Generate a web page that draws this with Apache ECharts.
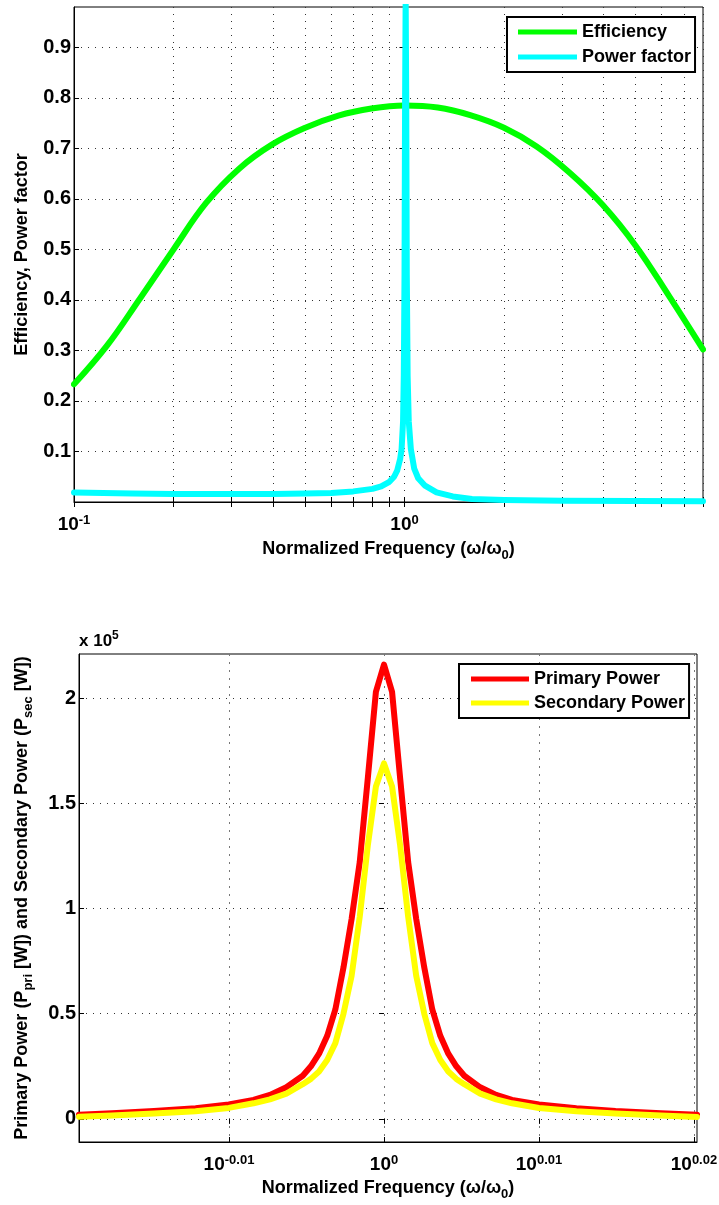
<!DOCTYPE html>
<html>
<head>
<meta charset="utf-8">
<script src="https://cdn.jsdelivr.net/npm/echarts@6/dist/echarts.min.js"></script>
<style>
html,body{margin:0;padding:0;background:#fff;}
#c{width:719px;height:1205px;}
</style>
</head>
<body>
<div id="c"></div>
<script>
// ---------- DATA: top chart ----------
const effFreq = [0.1, 0.126, 0.158, 0.2, 0.251, 0.316, 0.398, 0.501, 0.631, 0.794, 1.0, 1.26, 1.58, 2.0, 2.51, 3.16, 3.98, 5.01, 6.31, 8];
const efficiency = [0.233, 0.31, 0.402, 0.50, 0.592, 0.66, 0.708, 0.741, 0.765, 0.779, 0.785, 0.781, 0.766, 0.741, 0.704, 0.652, 0.588, 0.507, 0.408, 0.302];

const pfFreq = [0.1, 0.15, 0.2, 0.3, 0.4, 0.5, 0.6, 0.7, 0.8, 0.85, 0.9, 0.93, 0.95, 0.97, 0.98, 0.99, 0.995, 1.0, 1.004, 1.008, 1.012, 1.016, 1.022, 1.03, 1.045, 1.07, 1.1, 1.15, 1.25, 1.4, 1.6, 2, 3, 5, 8];
const powerFactor = [0.019, 0.017, 0.016, 0.016, 0.016, 0.017, 0.018, 0.021, 0.026, 0.031, 0.04, 0.05, 0.062, 0.085, 0.105, 0.16, 0.25, 0.45, 0.8, 1.0, 0.8, 0.45, 0.25, 0.16, 0.105, 0.066, 0.047, 0.033, 0.019, 0.011, 0.006, 0.004, 0.0025, 0.002, 0.0015];

const topYTicks = [0.1, 0.2, 0.3, 0.4, 0.5, 0.6, 0.7, 0.8, 0.9];
const topXLabelFreqs = [0.1, 1];
const topXTickFreqs = [0.1, 0.2, 0.3, 0.4, 0.5, 0.6, 0.7, 0.8, 0.9, 1, 2, 3, 4, 5, 6, 7, 8];

// ---------- DATA: bottom chart ----------
const powFreq = [0.9557, 0.9604, 0.9664, 0.9724, 0.9772, 0.9808, 0.9832, 0.9856, 0.9880, 0.9892, 0.9904, 0.9916, 0.9928, 0.9940, 0.9952, 0.9964, 0.9976, 0.9988, 1.0000, 1.0012, 1.0024, 1.0036, 1.0048, 1.0060, 1.0072, 1.0084, 1.0096, 1.0108, 1.0120, 1.0144, 1.0168, 1.0192, 1.0233, 1.0290, 1.0350, 1.0420, 1.0476];
const primaryPower = [2000, 2700, 3700, 5000, 6800, 9000, 11400, 15000, 20500, 25000, 31000, 39500, 52000, 72000, 95000, 122000, 162000, 203000, 216000, 203000, 162000, 122000, 95000, 72000, 52000, 39500, 31000, 25000, 20500, 15000, 11400, 9000, 6800, 5000, 3700, 2700, 1900];
const secondaryPower = [1000, 1600, 2500, 3600, 5200, 7400, 9300, 12000, 16500, 19000, 22500, 28000, 36000, 50000, 68000, 96000, 130000, 158000, 169000, 158000, 130000, 96000, 68000, 50000, 36000, 28000, 22500, 19000, 16500, 12000, 9300, 7400, 5200, 3600, 2500, 1600, 900];

const botXTickExps = [-0.01, 0, 0.01, 0.02];
const botYTicks = [0, 50000, 100000, 150000, 200000];

// ---------- RENDER ----------
const FONT = '"Liberation Sans", Arial, Helvetica, sans-serif';
const lg = v => Math.log10(v);
const pairs = (xs, ys) => xs.map((x, i) => [lg(x), ys[i]]);

const gridLine = { show: true, lineStyle: { color: '#333', width: 1, type: [1, 6] } };
const noSplit = { show: false };
const axLine = { show: true, onZero: false, lineStyle: { color: '#000', width: 1 } };

const supRich = {
  b: { fontSize: 19, fontWeight: 'bold', fontFamily: FONT, color: '#000', lineHeight: 22 },
  s: { fontSize: 13, fontWeight: 'bold', fontFamily: FONT, color: '#000', verticalAlign: 'top' }
};
const subRich = {
  m: { fontSize: 18, fontWeight: 'bold', fontFamily: FONT, color: '#000', lineHeight: 26 },
  u: { fontSize: 13, fontWeight: 'bold', fontFamily: FONT, color: '#000', verticalAlign: 'bottom' }
};
const tickLbl = { fontSize: 20, fontWeight: 'bold', fontFamily: FONT, color: '#000' };

function xAxisPair(gi, min, max, tickVals, labelVals, fmt, name, nameGap, split) {
  return [
    {
      type: 'value', gridIndex: gi, position: 'bottom', min: min, max: max,
      axisLine: axLine,
      axisTick: { show: true, inside: true, length: 5, customValues: tickVals, lineStyle: { color: '#000' } },
      axisLabel: { show: true, customValues: labelVals, formatter: fmt, rich: supRich, margin: 12, hideOverlap: false },
      splitLine: Object.assign({ customValues: tickVals }, split),
      name: name, nameLocation: 'middle', nameGap: nameGap,
      nameTextStyle: { rich: subRich }
    },
    {
      type: 'value', gridIndex: gi, position: 'top', min: min, max: max,
      axisLine: { show: false },
      axisTick: { show: true, inside: true, length: 5, customValues: tickVals, lineStyle: { color: '#000' } },
      axisLabel: { show: false }, splitLine: noSplit
    }
  ];
}
function yAxisPair(gi, min, max, tickVals, fmt, name, nameGap, rich) {
  return [
    {
      type: 'value', gridIndex: gi, position: 'left', min: min, max: max,
      axisLine: axLine,
      axisTick: { show: true, inside: true, length: 5, customValues: tickVals, lineStyle: { color: '#000' } },
      axisLabel: Object.assign({ show: true, customValues: tickVals, formatter: fmt, margin: 3 }, tickLbl),
      splitLine: Object.assign({ customValues: tickVals }, gridLine),
      name: name, nameLocation: 'middle', nameGap: nameGap, nameRotate: 90,
      nameTextStyle: rich ? { rich: subRich } : { fontSize: 18, fontWeight: 'bold', fontFamily: FONT, color: '#000', lineHeight: 20 }
    },
    {
      type: 'value', gridIndex: gi, position: 'right', min: min, max: max,
      axisLine: { show: false },
      axisTick: { show: true, inside: true, length: 5, customValues: tickVals, lineStyle: { color: '#000' } },
      axisLabel: { show: false }, splitLine: noSplit
    }
  ];
}

const xTitle = '{m|Normalized Frequency (ω/ω}{u|0}{m|)}';
const yTitleBot = '{m|Primary Power (P}{u|pri}{m| [W]) and Secondary Power (P}{u|sec}{m| [W])}';

const xAxes = []
  .concat(xAxisPair(0, -1, lg(8), topXTickFreqs.map(lg), topXLabelFreqs.map(lg),
    v => '{b|10}{s|' + Math.round(v) + '}', xTitle, 34, gridLine))
  .concat(xAxisPair(1, lg(powFreq[0]), lg(powFreq[powFreq.length - 1]), botXTickExps, botXTickExps,
    v => '{b|10}{s|' + (Math.abs(v) < 1e-9 ? '0' : v.toFixed(2)) + '}', xTitle, 33,
    { show: true, lineStyle: { color: '#777', width: 1, type: [2, 6] } }));

const yAxes = []
  .concat(yAxisPair(0, 0, 0.98, topYTicks, v => v.toFixed(1), 'Efficiency, Power factor', 37, false))
  .concat(yAxisPair(1, -11000, 221000, botYTicks, v => String(+(v / 1e5).toFixed(1)), yTitleBot, 44, true));

const lineSeries = (name, color, data, xi, yi, smooth) => ({
  name: name, type: 'line', xAxisIndex: xi, yAxisIndex: yi, data: data,
  showSymbol: false, symbol: 'none', smooth: smooth,
  clip: true, color: color,
  itemStyle: { color: color },
  lineStyle: { color: color, width: 6, cap: 'round', join: 'round' },
  animation: false
});

const legendBase = {
  orient: 'vertical', icon: 'rect', itemWidth: 59, itemHeight: 5, itemGap: 5,
  backgroundColor: '#fff', borderColor: '#000', borderWidth: 2, borderRadius: 0,
  textStyle: { fontSize: 18, fontWeight: 'bold', fontFamily: FONT, color: '#000', lineHeight: 20 },
  selectedMode: false
};

const chart = echarts.init(document.getElementById('c'), null, { renderer: 'canvas' });
chart.setOption({
  animation: false,
  backgroundColor: '#fff',
  grid: [
    { left: 74, top: 7, width: 629, height: 495, show: true, borderColor: '#000', borderWidth: 1, backgroundColor: 'transparent', containLabel: false, outerBoundsMode: 'none' },
    { left: 79, top: 654, width: 618, height: 488, show: true, borderColor: '#000', borderWidth: 1, backgroundColor: 'transparent', containLabel: false, outerBoundsMode: 'none' }
  ],
  xAxis: xAxes,
  yAxis: yAxes,
  legend: [
    Object.assign({}, legendBase, { left: 507, top: 17, padding: [5, 4, 5, 11], data: ['Efficiency', 'Power factor'] }),
    Object.assign({}, legendBase, { left: 459, top: 664, itemWidth: 58, itemGap: 4, padding: [5, 4, 5, 12], data: ['Primary Power', 'Secondary Power'] })
  ],
  graphic: [
    {
      type: 'text', left: 79, top: 630, silent: true,
      style: {
        text: '{a|x 10}{p|5}',
        rich: {
          a: { fontSize: 17, fontWeight: 'bold', fontFamily: FONT, fill: '#000', lineHeight: 22 },
          p: { fontSize: 12, fontWeight: 'bold', fontFamily: FONT, fill: '#000', verticalAlign: 'top' }
        }
      }
    }
  ],
  series: [
    lineSeries('Efficiency', '#00ff00', pairs(effFreq, efficiency), 0, 0, 0.4),
    lineSeries('Power factor', '#00ffff', pairs(pfFreq, powerFactor), 0, 0, false),
    lineSeries('Primary Power', '#ff0000', pairs(powFreq, primaryPower), 2, 2, false),
    lineSeries('Secondary Power', '#ffff00', pairs(powFreq, secondaryPower), 2, 2, false)
  ]
});
</script>
</body>
</html>
